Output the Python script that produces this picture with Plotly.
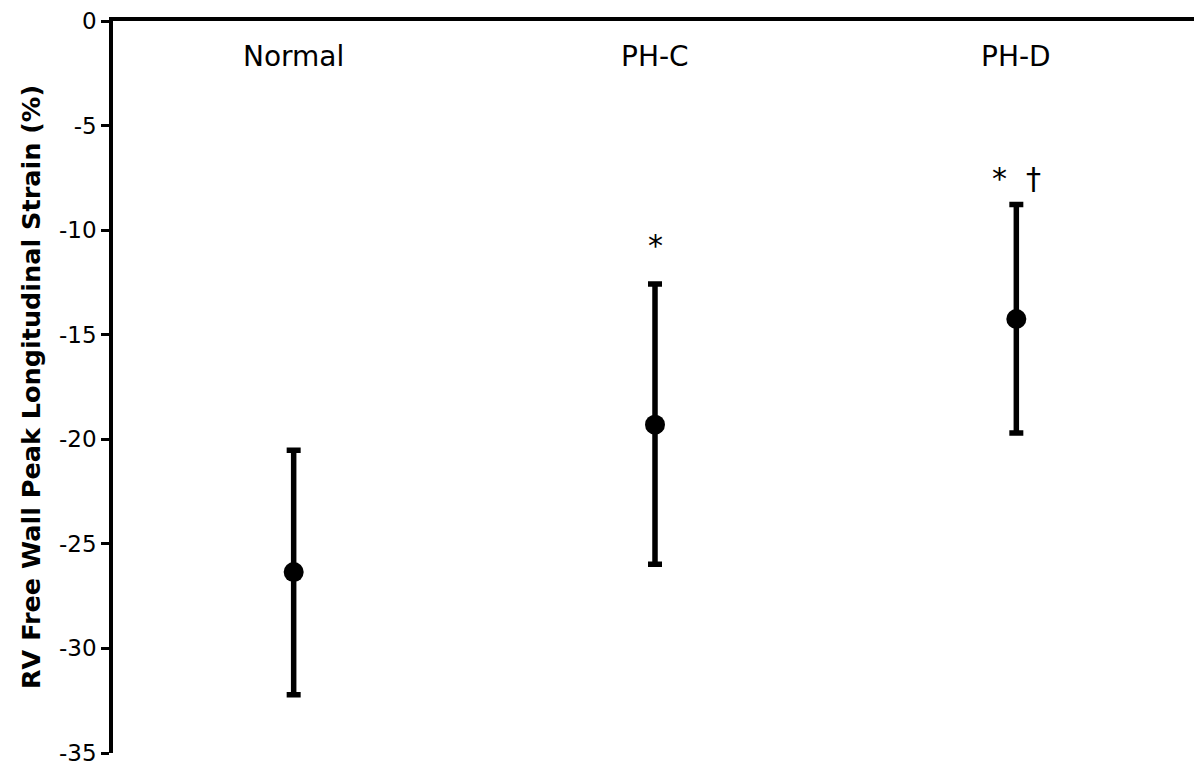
import plotly.graph_objects as go

categories = ["Normal", "PH-C", "PH-D"]
means = [-26.35, -19.3, -14.25]
err_plus = [5.82, 6.72, 5.48]
err_minus = [5.86, 6.68, 5.45]
sig_labels = ["", "*", "*  †"]
sig_shift = [0, 19, 6]
y_ticks = [0, -5, -10, -15, -20, -25, -30, -35]

font_family = "DejaVu Sans, Verdana, sans-serif"

fig = go.Figure()
fig.add_trace(go.Scatter(
    x=categories, y=means, mode="markers",
    marker=dict(size=20, color="black"),
    error_y=dict(type="data", symmetric=False, array=err_plus, arrayminus=err_minus,
                 color="black", thickness=5.5, width=7),
    showlegend=False,
))

for c, m, e, s, sh in zip(categories, means, err_plus, sig_labels, sig_shift):
    if s:
        fig.add_annotation(x=c, y=m + e, text=s, showarrow=False, yanchor="bottom", yshift=sh,
                           font=dict(family=font_family, size=30, color="black"))

for c in categories:
    fig.add_annotation(x=c, y=0, text=c, showarrow=False, yanchor="middle", yshift=-35,
                       font=dict(family=font_family, size=28, color="black"))

fig.add_shape(type="line", xref="paper", yref="y", x0=1, x1=1, y0=0, y1=-0.4,
              line=dict(color="black", width=3))

fig.update_layout(
    width=1194, height=759,
    margin=dict(l=105, r=5, t=13, b=14, autoexpand=False),
    plot_bgcolor="white", paper_bgcolor="white",
    font=dict(family=font_family, color="black"),
)
fig.update_xaxes(
    type="category", range=[-0.5, 2.5], side="top", showticklabels=False, automargin=False,
    showline=True, linecolor="black", linewidth=3.5, ticks="", showgrid=False, zeroline=False,
)
fig.update_yaxes(
    range=[-35, 0], tickvals=y_ticks, ticktext=[str(v) for v in y_ticks], automargin=False,
    showline=True, linecolor="black", linewidth=3.5, ticks="outside", ticklen=8, tickwidth=3,
    tickcolor="black", showgrid=False, zeroline=False, ticklabeloverflow="allow",
    tickfont=dict(family=font_family, size=23, color="black"),
    title=dict(text="<b>RV Free Wall Peak Longitudinal Strain (%)</b>", standoff=12,
               font=dict(family=font_family, size=25.5, color="black")),
)

fig.write_html("out.html")
